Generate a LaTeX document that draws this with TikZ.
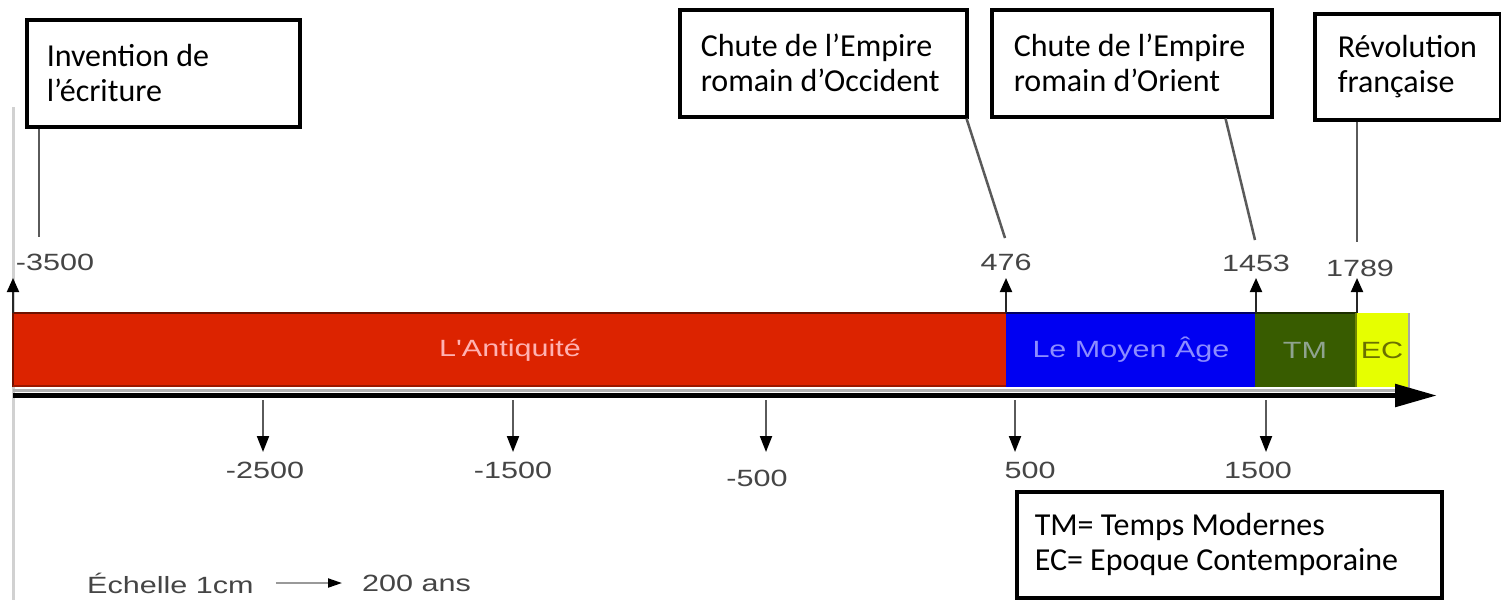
\documentclass[tikz,border=0pt]{standalone}
\usepackage{fontspec}
\setmainfont{Carlito}
\newfontfamily\arialf{Liberation Sans}
\usetikzlibrary{arrows.meta}
\definecolor{barred}{HTML}{DC2300}
\definecolor{barblue}{HTML}{0000F2}
\definecolor{bargreen}{HTML}{385C00}
\definecolor{baryellow}{HTML}{E6FF00}
\definecolor{labgray}{HTML}{454545}
\definecolor{linegray}{HTML}{5A5A5A}
\newcommand{\lab}[1]{\scalebox{1.3}[1]{\arialf\fontsize{23.5}{26}\selectfont #1}}
\begin{document}
\begin{tikzpicture}[x=1pt,y=-1pt,
  evbox/.style={draw=black, line width=3.5pt, fill=white, inner sep=0pt, anchor=north west},
  boxtxt/.style={font=\fontsize{32}{35}\selectfont},
  conn/.style={draw=linegray, line width=2.5pt},
  uparr/.style={draw=black!85, line width=2pt, -{Triangle[width=12pt,length=14pt,color=black]}},
  downarr/.style={draw=linegray, line width=2pt, -{Triangle[width=12pt,length=16pt,color=black]}},
  numlab/.style={text=labgray, inner sep=0pt},
  period/.style={inner sep=0pt, anchor=north west}
]
\useasboundingbox (0,0) rectangle (1501,600);
\fill[white] (0,0) rectangle (1501,600);
% left gray guide line
\draw[line width=3pt, draw=black!18] (13,107) -- (13,600);

% period bar
\node[period, fill=barred, minimum width=993pt, minimum height=74pt] (ant) at (13,313) {};
\node[period, fill=barblue, minimum width=249pt, minimum height=74pt] (ma) at (1006,313) {};
\node[period, fill=bargreen, minimum width=101pt, minimum height=74pt] (tm) at (1255,313) {};
\node[period, fill=baryellow, minimum width=53pt, minimum height=74pt] (ec) at (1356,313) {};
\draw[line width=1.5pt, draw=black!50!barred] (13,387) -- (13,313) -- (1006,313);
\draw[line width=1.5pt, draw=black!30!barred] (13,386) -- (1006,386);
\draw[line width=1.5pt, draw=black!60!barblue] (1006,313) -- (1255,313);
\draw[line width=1.5pt, draw=black!50!bargreen] (1255,313) -- (1356,313);
\draw[line width=1.5pt, draw=black!40!baryellow!70!bargreen] (1356,313) -- (1356,387);
\draw[line width=2pt, draw=black!35] (1409,313) -- (1409,390);
\draw[line width=3pt, draw=black!30] (13,390) -- (1409,390);
\node[text=red!30!white] at (510,350) {\lab{L'Antiquité}};
\node[text=blue!45!white] at (1131,350) {\lab{Le Moyen Âge}};
\node[text=green!10!gray!80!white] at (1305,350) {\lab{TM}};
\node[text=black!60!baryellow!60!olive] at (1382,350) {\lab{EC}};

% axis
\coordinate (ax0) at (13,395.5);
\coordinate (ax1) at (1437,395.5);
\draw[line width=5.5pt, -{Triangle[width=22pt,length=42pt]}] (ax0) -- (ax1);

% up arrows and labels
\foreach \nm/\x/\y/\lx/\txt in {a/13/262/55/-3500, b/1006/262/1006/476, c/1256/263/1256/1453, d/1357/268/1360/1789}{
  \coordinate (up\nm0) at (\x,313);
  \coordinate (up\nm1) at (\x,278);
  \draw[uparr] (up\nm0) -- (up\nm1);
  \node[numlab] (ul\nm) at (\lx,\y) {\lab{\txt}};
}
% down arrows and labels
\foreach \nm/\x/\lx/\y/\txt in {a/263/265/470/-2500, b/513/513/470/-1500, c/766/757/478/-500, d/1015/1030/470/500, e/1266/1258/470/1500}{
  \coordinate (dn\nm0) at (\x,400);
  \coordinate (dn\nm1) at (\x,452);
  \draw[downarr] (dn\nm0) -- (dn\nm1);
  \node[numlab] (dl\nm) at (\lx,\y) {\lab{\txt}};
}

% event boxes
\node[evbox, boxtxt, minimum width=273pt, minimum height=107pt] (inv) at (25,18)
  {\parbox{233pt}{Invention de\\l’écriture}};
\node[evbox, boxtxt, minimum width=287pt, minimum height=107pt] (occ) at (678,8)
  {\parbox{245pt}{Chute de l’Empire\\romain d’Occident}};
\node[evbox, boxtxt, minimum width=280pt, minimum height=107pt] (ori) at (990,8)
  {\parbox{236pt}{Chute de l’Empire\\romain d’Orient}};
\node[evbox, boxtxt, minimum width=186pt, minimum height=106pt] (rev) at (1313,12)
  {\parbox{140pt}{Révolution\\française}};
\node[evbox, boxtxt, minimum width=425pt, minimum height=106pt] (leg) at (1015,490)
  {\parbox{389pt}{TM= Temps Modernes\\EC= Epoque Contemporaine}};

% connectors
\coordinate (cinv) at (39,237);
\coordinate (cocc) at (1005,238);
\coordinate (cori) at (1255,240);
\coordinate (crev) at (1357,242);
\draw[conn] ([xshift=14pt]inv.south west) -- (cinv);
\draw[conn] ([xshift=-2pt]occ.south east) -- (cocc);
\draw[conn] ([xshift=-48pt]ori.south east) -- (cori);
\draw[conn] ([xshift=44pt]rev.south west) -- (crev);

% scale
\node[text=labgray, anchor=west, inner sep=0pt] (sc1) at (87,583) {\lab{Échelle 1cm}};
\node[text=labgray, anchor=west, inner sep=0pt] (sc2) at (362,583) {\lab{200 ans}};
\draw[draw=black!40, line width=2pt, -{Triangle[width=9pt,length=14pt,color=black]}] ([xshift=22pt]sc1.east) -- ([xshift=-20pt]sc2.west);
\end{tikzpicture}
\end{document}
